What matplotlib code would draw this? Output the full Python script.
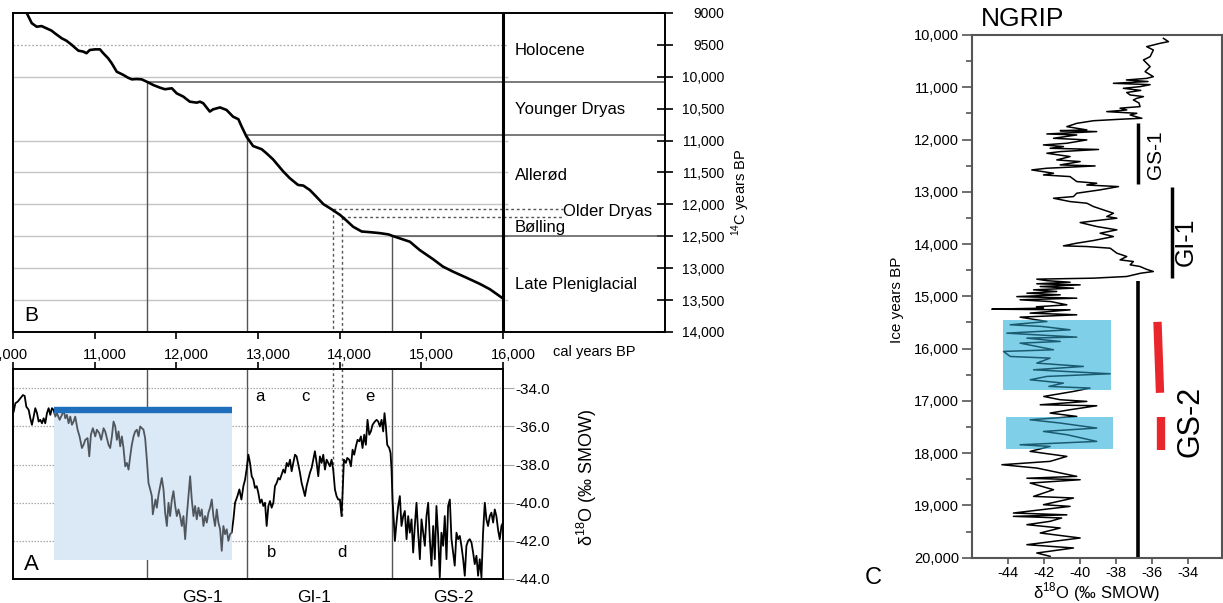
import matplotlib
matplotlib.use("Agg")
import matplotlib.pyplot as plt
import matplotlib.transforms as mtransforms
from matplotlib.patches import Rectangle

plt.rcParams['font.family'] = ['Liberation Sans', 'DejaVu Sans']
plt.rcParams['axes.unicode_minus'] = False
plt.rcParams['mathtext.fontset'] = 'custom'
plt.rcParams['mathtext.rm'] = 'Liberation Sans'

# --- B: radiocarbon calibration curve (cal years BP vs 14C years BP)
b_cal = [10170, 10230, 10290, 10350, 10410, 10470, 10515, 10595, 10655, 10720,
         10800, 10860, 10900, 10940, 11005, 11065, 11105, 11165, 11210, 11270,
         11350, 11410, 11455, 11515, 11575, 11635, 11720, 11800, 11860, 11945,
         12005, 12085, 12165, 12250, 12290, 12330, 12410, 12450, 12535, 12615,
         12695, 12760, 12800, 12860, 12940, 13045, 13105, 13185, 13310, 13390,
         13490, 13555, 13635, 13715, 13800, 13900, 14005, 14085, 14165, 14270,
         14370, 14490, 14595, 14695, 14860, 14980, 15145, 15265, 15390, 15555,
         15715, 15840, 15995]
b_c14 = [9005, 9160, 9215, 9205, 9240, 9275, 9320, 9395, 9435, 9500,
         9590, 9605, 9630, 9580, 9570, 9570, 9630, 9710, 9790, 9920,
         9970, 10015, 10040, 10035, 10040, 10075, 10130, 10170, 10195, 10180,
         10260, 10310, 10390, 10405, 10390, 10415, 10545, 10510, 10480, 10520,
         10625, 10665, 10780, 10940, 11085, 11135, 11200, 11295, 11485, 11590,
         11695, 11705, 11775, 11880, 11995, 12075, 12165, 12255, 12350, 12425,
         12435, 12450, 12470, 12515, 12585, 12715, 12860, 12975, 13055, 13150,
         13245, 13330, 13470]

cal_ticks = [10000, 11000, 12000, 13000, 14000, 15000, 16000]
cal_labels = ['10,000', '11,000', '12,000', '13,000', '14,000', '15,000', '16,000']
c14_ticks = [9000, 9500, 10000, 10500, 11000, 11500, 12000, 12500, 13000, 13500, 14000]
c14_labels = ['9000', '9500', '10,000', '10,500', '11,000', '11,500', '12,000',
              '12,500', '13,000', '13,500', '14,000']
c14_grid = [10000, 11000, 11500, 12000, 12500, 13000, 13500]

# chronozone boundaries: (cal BP, 14C BP)
bound_solid = [(11636, 10080), (12861, 10910), (14635, 12500)]
bound_dotted = [(13921, 12070), (14031, 12200)]
zone_names = ['Holocene', 'Younger Dryas', 'Allerød', 'Bølling', 'Late Pleniglacial']
zone_c14 = [9580, 10520, 11540, 12355, 13250]

# --- A: d18O record vs cal years BP
a_cal = [10008, 10029, 10057, 10090, 10122, 10143, 10163, 10192, 10212, 10232,
         10253, 10273, 10294, 10314, 10334, 10355, 10375, 10395, 10416, 10436,
         10457, 10477, 10497, 10518, 10538, 10571, 10599, 10620, 10640, 10660,
         10681, 10701, 10722, 10742, 10762, 10791, 10815, 10844, 10864, 10885,
         10913, 10934, 10954, 10978, 11007, 11027, 11056, 11080, 11109, 11129,
         11150, 11170, 11190, 11211, 11231, 11252, 11272, 11292, 11313, 11333,
         11353, 11374, 11394, 11415, 11435, 11455, 11476, 11496, 11517, 11537,
         11557, 11578, 11598, 11618, 11639, 11659, 11680, 11700, 11712, 11729,
         11745, 11761, 11782, 11802, 11822, 11843, 11863, 11884, 11904, 11924,
         11945, 11965, 11986, 12006, 12026, 12047, 12067, 12087, 12108, 12128,
         12148, 12169, 12189, 12210, 12230, 12250, 12271, 12291, 12311, 12332,
         12352, 12373, 12393, 12413, 12434, 12454, 12474, 12495, 12515, 12536,
         12556, 12576, 12597, 12617, 12637, 12658, 12678, 12699, 12719, 12748,
         12772, 12797, 12821, 12842, 12862, 12882, 12902, 12923, 12943, 12963,
         12984, 13004, 13025, 13045, 13065, 13086, 13106, 13127, 13147, 13167,
         13188, 13208, 13229, 13249, 13269, 13290, 13310, 13330, 13351, 13371,
         13392, 13412, 13432, 13453, 13473, 13493, 13514, 13534, 13555, 13575,
         13595, 13616, 13636, 13657, 13677, 13697, 13718, 13738, 13758, 13779,
         13799, 13820, 13840, 13860, 13881, 13901, 13921, 13942, 13962, 13982,
         14003, 14023, 14036, 14052, 14076, 14093, 14117, 14138, 14158, 14178,
         14199, 14219, 14240, 14260, 14280, 14301, 14321, 14341, 14362, 14382,
         14403, 14431, 14452, 14472, 14492, 14513, 14533, 14549, 14566, 14582,
         14607, 14623, 14635, 14647, 14664, 14676, 14696, 14717, 14737, 14757,
         14778, 14798, 14819, 14839, 14859, 14880, 14900, 14920, 14941, 14961,
         14982, 15002, 15022, 15043, 15063, 15084, 15104, 15124, 15145, 15165,
         15185, 15206, 15226, 15246, 15267, 15287, 15308, 15328, 15349, 15369,
         15389, 15409, 15430, 15450, 15471, 15491, 15512, 15532, 15552, 15573,
         15593, 15614, 15634, 15654, 15675, 15695, 15715, 15736, 15756, 15777,
         15797, 15817, 15838, 15858, 15879, 15899, 15919, 15940, 15960, 15981,
         16000]
a_d18o = [-35.22, -34.78, -34.70, -34.52, -34.35, -34.40, -34.96, -35.13, -35.57, -35.91,
          -35.48, -35.04, -35.30, -35.74, -35.65, -35.83, -35.57, -35.83, -35.30, -35.04,
          -35.39, -35.04, -35.13, -35.48, -35.30, -35.65, -35.39, -35.13, -35.57, -35.39,
          -35.83, -35.48, -35.91, -35.74, -35.48, -36.17, -36.52, -37.13, -36.96, -36.70,
          -36.61, -37.57, -36.43, -36.09, -36.52, -36.17, -36.35, -36.70, -36.09, -36.26,
          -36.61, -36.96, -37.13, -36.52, -35.74, -36.00, -36.70, -36.26, -37.04, -36.52,
          -37.13, -38.09, -37.91, -38.26, -37.57, -36.96, -36.52, -36.26, -36.17, -36.52,
          -36.00, -36.09, -36.17, -36.61, -37.74, -38.96, -39.30, -39.65, -40.61, -40.17,
          -39.83, -40.26, -39.57, -39.13, -38.70, -39.30, -40.52, -41.22, -40.00, -40.70,
          -39.83, -39.39, -40.17, -40.70, -40.35, -40.70, -41.22, -40.70, -41.91, -40.70,
          -39.65, -38.61, -39.83, -40.70, -40.17, -40.87, -40.26, -40.70, -40.35, -41.22,
          -40.70, -41.04, -40.52, -40.26, -39.83, -40.70, -41.22, -40.35, -41.04, -41.39,
          -42.52, -41.22, -41.65, -41.39, -42.00, -41.65, -41.57, -40.87, -40.00, -39.65,
          -39.30, -39.83, -39.13, -38.78, -38.20, -37.48, -37.91, -38.61, -38.78, -39.22,
          -39.13, -39.48, -40.00, -39.83, -40.17, -40.00, -41.22, -40.17, -39.91, -40.26,
          -40.00, -39.13, -38.96, -38.70, -38.78, -38.52, -38.26, -38.43, -37.91, -38.09,
          -37.74, -38.35, -37.91, -37.48, -37.57, -38.00, -38.43, -38.96, -39.30, -39.65,
          -39.13, -38.78, -38.43, -38.17, -37.74, -37.30, -37.91, -38.61, -37.57, -37.91,
          -37.48, -38.26, -37.74, -37.91, -38.09, -37.74, -38.26, -39.30, -39.65, -39.83,
          -39.83, -40.70, -39.48, -37.74, -37.91, -37.65, -37.74, -38.09, -37.22, -37.48,
          -37.04, -36.70, -36.78, -36.52, -37.13, -36.43, -36.96, -35.65, -36.43, -36.26,
          -35.91, -35.74, -35.65, -35.74, -36.00, -35.65, -36.26, -35.30, -36.00, -36.96,
          -37.13, -37.39, -38.26, -39.83, -41.04, -42.00, -41.04, -40.17, -39.65, -41.22,
          -40.70, -40.43, -41.91, -40.70, -41.57, -40.87, -42.61, -41.22, -40.00, -41.57,
          -42.96, -40.87, -41.57, -42.26, -40.70, -40.00, -41.91, -43.30, -41.22, -42.96,
          -40.17, -41.74, -43.91, -41.57, -42.26, -40.70, -42.96, -40.17, -39.83, -41.91,
          -42.61, -43.30, -41.57, -41.91, -41.74, -42.26, -42.96, -43.83, -42.26, -42.00,
          -41.91, -42.09, -42.61, -43.22, -42.78, -43.83, -42.96, -43.91, -41.57, -40.00,
          -40.87, -41.22, -40.70, -40.52, -41.04, -40.35, -40.70, -41.43, -41.91, -41.22,
          -41.04]
a_ticks = [-44, -42, -40, -38, -36, -34]
a_tick_labels = ['-44.0', '-42.0', '-40.0', '-38.0', '-36.0', '-34.0']
a_grid = [-42, -40, -38, -36, -34]
a_letters = ['a', 'b', 'c', 'd', 'e']
a_letter_cal = [13025, 13167, 13575, 14023, 14370]
a_letter_val = [-34.43, -42.6, -34.43, -42.6, -34.43]
a_box = (10497, 12686, -43.01, -35.15)   # cal from, cal to, d18O bottom, d18O top
a_divides = [11636, 12861, 14635]
a_dotted = [(13921, -38.26), (14031, -40.70)]

# --- C: NGRIP d18O vs ice years BP
c_ice = [10064, 10127, 10159, 10223, 10287, 10414, 10478, 10605, 10701, 10797,
         10830, 10860, 10890, 10924, 10950, 10988, 11020, 11060, 11100, 11147,
         11179, 11211, 11243, 11300, 11370, 11400, 11434, 11466, 11498, 11530,
         11560, 11593, 11612, 11640, 11690, 11753, 11816, 11830, 11848, 11893,
         11912, 11976, 12007, 12071, 12103, 12135, 12167, 12190, 12231, 12262,
         12326, 12390, 12422, 12485, 12505, 12549, 12581, 12645, 12677, 12709,
         12804, 12836, 12870, 12900, 12963, 13027, 13091, 13123, 13187, 13218,
         13282, 13346, 13410, 13473, 13505, 13588, 13664, 13696, 13728, 13792,
         13856, 13932, 13983, 14034, 14047, 14079, 14174, 14238, 14302, 14334,
         14397, 14429, 14480, 14525, 14557, 14620, 14652, 14671, 14700, 14730,
         14760, 14780, 14812, 14843, 14875, 14907, 14939, 14971, 15005, 15035,
         15066, 15100, 15162, 15200, 15226, 15245, 15258, 15321, 15353, 15398,
         15481, 15544, 15576, 15640, 15704, 15780, 15799, 15863, 15895, 16022,
         16054, 16150, 16182, 16277, 16341, 16405, 16481, 16532, 16596, 16660,
         16723, 16755, 16819, 16915, 16978, 17010, 17074, 17093, 17169, 17233,
         17297, 17361, 17424, 17520, 17584, 17647, 17775, 17839, 17871, 17966,
         18062, 18157, 18221, 18285, 18444, 18480, 18508, 18572, 18699, 18827,
         18858, 18986, 19018, 19145, 19180, 19209, 19240, 19304, 19368, 19432,
         19527, 19623, 19751, 19814, 19910, 19974]
c_d18o = [-35.34, -35.06, -35.53, -36.27, -35.90, -36.08, -36.45, -36.08, -36.36, -35.90,
          -36.27, -37.40, -36.20, -38.12, -36.08, -36.64, -37.57, -36.60, -37.38, -37.19,
          -36.45, -36.82, -37.01, -36.70, -36.64, -37.75, -37.38, -38.49, -36.82, -37.19,
          -36.90, -36.54, -37.75, -39.23, -40.16, -40.71, -39.60, -41.08, -39.05, -41.82,
          -40.16, -41.45, -39.60, -40.71, -42.01, -40.90, -41.64, -38.95, -41.08, -41.82,
          -40.53, -41.27, -39.97, -41.08, -39.14, -41.82, -42.66, -41.45, -42.01, -40.53,
          -40.16, -39.05, -39.60, -37.84, -38.86, -40.16, -40.34, -41.45, -40.53, -39.60,
          -39.23, -38.67, -38.12, -38.49, -37.93, -39.97, -39.05, -38.49, -37.93, -38.86,
          -38.12, -39.23, -40.16, -40.90, -39.60, -38.30, -37.93, -37.38, -37.75, -37.01,
          -37.19, -36.64, -36.30, -35.90, -36.60, -37.38, -39.23, -42.38, -41.82, -40.53,
          -42.38, -39.97, -42.19, -40.34, -42.56, -41.27, -42.93, -41.08, -43.49, -40.16,
          -43.31, -41.60, -40.71, -42.40, -42.01, -44.88, -40.53, -42.75, -40.16, -43.31,
          -41.82, -43.86, -42.10, -40.53, -44.05, -40.16, -42.93, -41.08, -43.31, -41.45,
          -44.23, -43.86, -41.64, -42.38, -39.79, -42.56, -38.30, -41.82, -42.75, -40.90,
          -41.71, -39.42, -40.34, -41.99, -41.08, -39.60, -42.19, -39.05, -40.53, -41.64,
          -40.16, -42.75, -41.08, -39.05, -42.01, -40.71, -39.05, -43.31, -41.64, -42.75,
          -40.71, -41.64, -44.32, -42.38, -40.16, -42.93, -39.97, -42.75, -41.45, -42.56,
          -40.34, -42.01, -40.53, -43.68, -40.71, -43.68, -41.00, -41.64, -42.93, -41.08,
          -42.19, -39.97, -42.93, -40.34, -42.38, -41.64]
c_xticks = [-44, -42, -40, -38, -36, -34]
c_yticks = [10000, 11000, 12000, 13000, 14000, 15000, 16000, 17000, 18000, 19000, 20000]
c_ylabels = ['10,000', '11,000', '12,000', '13,000', '14,000', '15,000', '16,000',
             '17,000', '18,000', '19,000', '20,000']
c_boxes = [(-44.27, -38.25, 15449, 16801), (-44.10, -38.12, 17310, 17916)]
red_bars = [((-35.67, -35.53), (15488, 16845)), ((-35.47, -35.47), (17304, 17935))]

W, H = 1223, 603
fig = plt.figure(figsize=(W / 100, H / 100), dpi=100)


def px_box(left, top, right, bottom):
    return [left / W, 1 - bottom / H, (right - left) / W, (bottom - top) / H]


def fig_xy(x, y):
    return x / W, 1 - y / H


# ---------------- panel B ----------------
axb = fig.add_axes(px_box(13, 13, 665, 332))
axb.set_xlim(10000, 17984)
axb.set_ylim(14000, 9000)
axb.hlines(9500, 10000, 16060, colors='#a8a8a8', lw=0.9, linestyles=(0, (1.5, 1.5)))
axb.hlines(c14_grid, 10000, 16060, colors='#c4c4c4', lw=1.0)
for cal, c14 in bound_solid:
    axb.vlines(cal, c14, 14000, colors='#555555', lw=1.0)
    axb.hlines(c14, cal, 17984, colors='#555555', lw=1.1)
for cal, c14 in bound_dotted:
    axb.vlines(cal, c14, 14000, colors='#555555', lw=1.0, linestyles=(0, (2, 2)))
    axb.hlines(c14, cal, 16735, colors='#555555', lw=1.0, linestyles=(0, (2, 2)))
axb.axvline(16000, color='black', lw=2.2)
axb.plot(b_cal, b_c14, color='black', lw=1.9, zorder=4)

for name, c14 in zip(zone_names, zone_c14):
    axb.text(16147, c14, name, fontsize=12, va='center', ha='left')
axb.text(16735, 12118, 'Older Dryas', fontsize=12, va='center', ha='left')

for s in axb.spines.values():
    s.set_linewidth(1.4)
axb.yaxis.tick_right()
axb.set_yticks(c14_ticks)
axb.set_yticklabels(c14_labels)
axb.tick_params(axis='y', direction='inout', length=11, width=1.2, pad=37, labelsize=10)
for lab in axb.get_yticklabels():
    lab.set_horizontalalignment('right')
axb.set_xticks(cal_ticks)
axb.set_xticklabels(cal_labels)
axb.tick_params(axis='x', direction='out', length=5, width=1.2, pad=6.5, labelsize=10.5)
for i, lab in enumerate(axb.get_xticklabels()):
    dx = -8 if i == 0 else 10
    lab.set_transform(lab.get_transform() +
                      mtransforms.ScaledTranslation(dx / 100, 0, fig.dpi_scale_trans))
fig.text(*fig_xy(553, 352), 'cal years BP', fontsize=10.5, ha='left', va='center')
fig.text(*fig_xy(31, 316), 'B', fontsize=15, ha='center', va='center')
fig.text(*fig_xy(741, 192), '$^{14}$C years BP', fontsize=10.5, rotation=90,
         ha='center', va='center')

# ---------------- panel A ----------------
axa = fig.add_axes(px_box(13, 369.3, 503, 579))
axa.set_xlim(10000, 16000)
axa.set_ylim(-44, -33)
axa.hlines(a_grid, 10000, 16000, colors='#a8a8a8', lw=0.9, linestyles=(0, (1.2, 1.2)))
axa.vlines(a_divides, -44, -33, colors='#555555', lw=1.0)
for cal, val in a_dotted:
    axa.vlines(cal, val, -32.6, colors='#555555', lw=1.0, linestyles=(0, (2, 2)),
               clip_on=False)
axa.plot(a_cal, a_d18o, color='black', lw=1.3, zorder=2)
x0, x1, y0, y1 = a_box
shade = Rectangle((x0, y0), x1 - x0, y1 - y0, facecolor='#dbe8f5', edgecolor='none', zorder=3)
axa.add_patch(shade)
inside, = axa.plot(a_cal, a_d18o, color='#50565e', lw=1.3, zorder=4)
inside.set_clip_path(shade)
axa.hlines(y1, x0, x1, colors='#1f6fbd', lw=4.6, zorder=5)

for s in axa.spines.values():
    s.set_linewidth(1.4)
axa.yaxis.tick_right()
axa.set_yticks(a_ticks)
axa.set_yticklabels(a_tick_labels)
axa.tick_params(axis='y', direction='out', length=8, color='#a8a8a8', pad=1, labelsize=11)
axa.xaxis.tick_top()
axa.set_xticks(cal_ticks)
axa.set_xticklabels([])
axa.tick_params(axis='x', direction='out', length=5, width=1.2)
for t, xv, yv in zip(a_letters, a_letter_cal, a_letter_val):
    axa.text(xv, yv, t, fontsize=12, ha='center', va='center')
fig.text(*fig_xy(31, 565), 'A', fontsize=16, ha='center', va='center')
fig.text(*fig_xy(587, 477), 'δ$^{18}$O (‰ SMOW)', fontsize=13, rotation=90,
         ha='center', va='center')
for name, xp in zip(['GS-1', 'GI-1', 'GS-2'], [202, 314, 453]):
    fig.text(xp / W, 1 / H, name, fontsize=12.5, ha='center', va='baseline')

# ---------------- panel C ----------------
axc = fig.add_axes(px_box(971.7, 35, 1221.7, 557.7))
axc.set_xlim(-46.0, -32.1)
axc.set_ylim(20000, 10000)
axc.plot(c_d18o, c_ice, color='black', lw=1.1, zorder=2)
for bx0, bx1, by0, by1 in c_boxes:
    rect = Rectangle((bx0, by0), bx1 - bx0, by1 - by0, facecolor='#7fcfe9',
                     edgecolor='none', zorder=3)
    axc.add_patch(rect)
    teal, = axc.plot(c_d18o, c_ice, color='#1b5b70', lw=1.1, zorder=4)
    teal.set_clip_path(rect)
axc.vlines(-36.73, 14700, 20000, colors='black', lw=2.6)
axc.vlines(-36.73, 11690, 12860, colors='black', lw=2.5)
axc.vlines(-34.86, 12900, 14650, colors='black', lw=2.5)
for xs, ys in red_bars:
    axc.plot(xs, ys, color='#e8262b', lw=6, solid_capstyle='butt')
axc.text(-35.8, 12294, 'GS-1', fontsize=15, rotation=90, ha='center', va='center')
axc.text(-34.08, 13950, 'GI-1', fontsize=18, rotation=90, ha='center', va='center')
axc.text(-33.86, 17393, 'GS-2', fontsize=22, rotation=90, ha='center', va='center')

for s in axc.spines.values():
    s.set_linewidth(1.5)
    s.set_color('#555555')
axc.set_yticks(c_yticks)
axc.set_yticklabels(c_ylabels)
axc.set_yticks(range(10500, 20000, 1000), minor=True)
axc.set_xticks(c_xticks)
axc.set_xticklabels([str(v) for v in c_xticks])
axc.tick_params(axis='y', which='major', length=7, width=1.2, color='#555555',
                pad=2, labelsize=10.5)
axc.tick_params(axis='y', which='minor', length=4, width=1.2, color='#555555')
axc.tick_params(axis='x', length=4, width=1.2, color='#555555', pad=2, labelsize=10.5)
fig.text(*fig_xy(1023, 19), 'NGRIP', fontsize=19, ha='center', va='center')
fig.text(*fig_xy(873, 578), 'C', fontsize=17, ha='center', va='center')
fig.text(*fig_xy(897, 300), 'Ice years BP', fontsize=11, rotation=90,
         ha='center', va='center')
fig.text(*fig_xy(1097, 598), 'δ$^{18}$O (‰ SMOW)', fontsize=12, ha='center',
         va='baseline')

fig.savefig('out.png', dpi=100)
